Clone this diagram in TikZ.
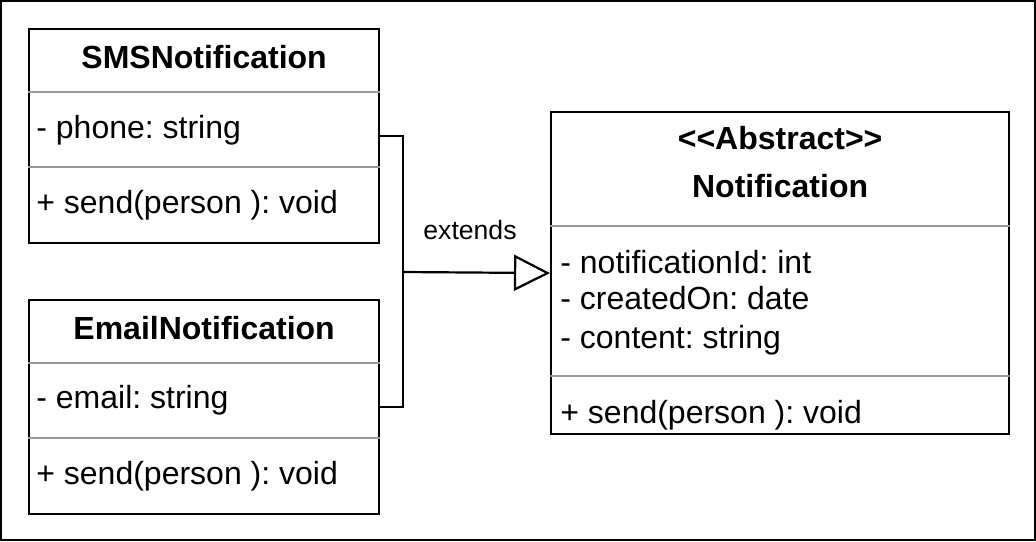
\documentclass[tikz,border=0pt]{standalone}
\usepackage{fontspec}
\setmainfont[Ligatures=TeXOff]{Liberation Sans}
\usetikzlibrary{arrows.meta,calc}
\frenchspacing
\begin{document}
\begin{tikzpicture}[x=0.5pt,y=-0.5pt,
  box/.style={draw=black,line width=1.1pt,rectangle,inner sep=0pt,anchor=north west,fill=white},
  sepline/.style={draw=black!40,line width=0.8pt},
  title/.style={font=\fontsize{16}{19}\selectfont\bfseries,anchor=base,inner sep=0pt},
  member/.style={font=\fontsize{16}{19}\selectfont,anchor=base west,inner sep=0pt},
  conn/.style={draw=black,line width=1.1pt},
  lbl/.style={font=\fontsize{13.3}{16}\selectfont,anchor=base,inner sep=0pt}]
\useasboundingbox (0,0) rectangle (1036,541);
\draw[line width=1pt] (1,1) rectangle (1035,540);

% SMSNotification
\node[box,minimum width=175pt,minimum height=107pt] (sms) at (28,28) {};
\draw[sepline] ($(sms.north west)+(0,64)$) -- ($(sms.north east)+(0,64)$);
\draw[sepline] ($(sms.north west)+(0,139)$) -- ($(sms.north east)+(0,139)$);
\node[title] (smst) at ($(sms.north)+(0,40)$) {SMSNotification};
\node[member] (smsa) at ($(sms.north west)+(8,110)$) {- phone: string};
\node[member] (smsm) at ($(sms.north west)+(8,185)$) {+ send(person ): void};

% EmailNotification
\node[box,minimum width=175pt,minimum height=107pt] (email) at (28,299) {};
\draw[sepline] ($(email.north west)+(0,64)$) -- ($(email.north east)+(0,64)$);
\draw[sepline] ($(email.north west)+(0,139)$) -- ($(email.north east)+(0,139)$);
\node[title] (emailt) at ($(email.north)+(0,40)$) {EmailNotification};
\node[member] (emaila) at ($(email.north west)+(8,109)$) {- email: string};
\node[member] (emailm) at ($(email.north west)+(8,185)$) {+ send(person ): void};

% Notification
\node[box,minimum width=229pt,minimum height=161pt] (notif) at (550,111) {};
\draw[sepline] ($(notif.north west)+(0,115)$) -- ($(notif.north east)+(0,115)$);
\draw[sepline] ($(notif.north west)+(0,265)$) -- ($(notif.north east)+(0,265)$);
\node[title] (notifs) at ($(notif.north)+(0,38)$) {<<Abstract>>};
\node[title] (notift) at ($(notif.north)+(0,86)$) {Notification};
\node[member] (notifa1) at ($(notif.north west)+(10,162)$) {- notificationId: int};
\node[member] (notifa2) at ($(notif.north west)+(10,198)$) {- createdOn: date};
\node[member] (notifa3) at ($(notif.north west)+(10,237)$) {- content: string};
\node[member] (notifm) at ($(notif.north west)+(10,312)$) {+ send(person ): void};

% connectors
\coordinate (j) at (403,272);
\draw[conn] (sms.east) -| (j) |- (email.east);
\draw[conn,-{Triangle[open,length=18pt,width=18pt,fill=white]}] (j) -- (notif.west);
\node[lbl] (ext) at (470,239) {extends};
\end{tikzpicture}
\end{document}
